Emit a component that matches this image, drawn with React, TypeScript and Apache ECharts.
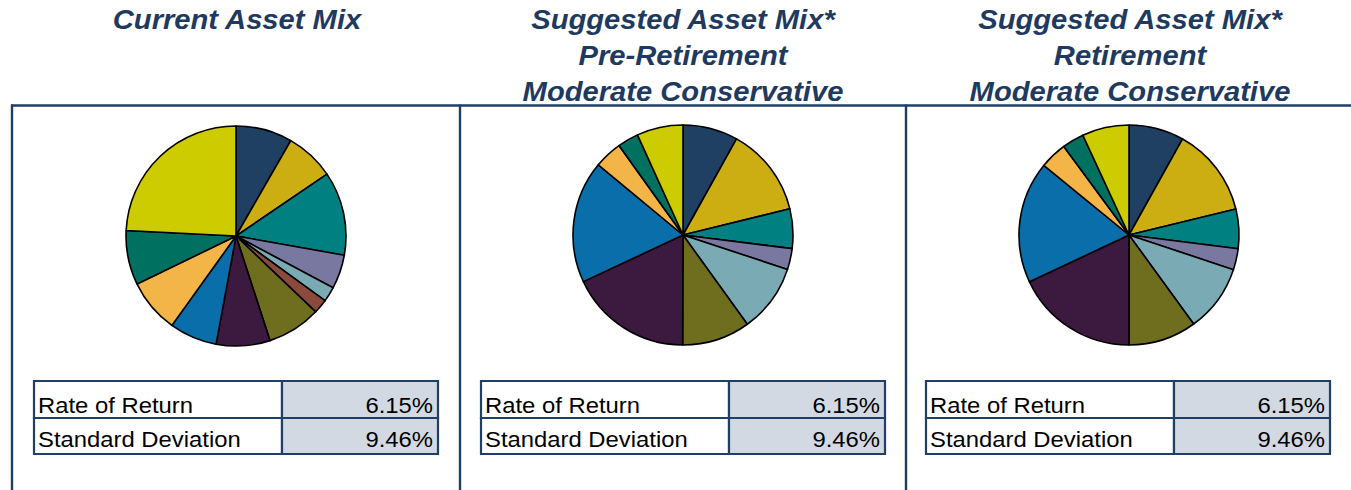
import React, { useEffect, useRef } from "react";
import * as echarts from "echarts";

const assetClasses = [
  "Cash",
  "Short-Term Bond",
  "Intermediate Bond",
  "High Yield Bond",
  "International Bond",
  "Real Estate",
  "Large Value",
  "Large Growth",
  "Large Blend",
  "Mid Cap",
  "Small Cap",
  "International Equity",
];
const sliceColors = [
  "#1F3F63",
  "#CDAE12",
  "#008080",
  "#7878A0",
  "#7AAAB4",
  "#8B4A3C",
  "#6E6E1E",
  "#3C193E",
  "#0A6EAA",
  "#F3B548",
  "#007060",
  "#CCCC00",
];
const currentMix = [8.3, 7.2, 12.3, 5.0, 2.2, 2.1, 7.9, 7.9, 7.0, 7.9, 8.0, 24.2];
const preRetirementMix = [8.1, 13.1, 5.8, 3.1, 10.0, 0, 10.0, 18.0, 18.0, 4.1, 3.1, 6.8];
const retirementMix = [8.1, 13.1, 5.8, 3.1, 9.9, 0, 10.0, 18.0, 17.9, 4.0, 3.2, 6.9];

const panelTitles = [
  ["Current Asset Mix"],
  ["Suggested Asset Mix*", "Pre-Retirement", "Moderate Conservative"],
  ["Suggested Asset Mix*", "Retirement", "Moderate Conservative"],
];
const statLabels = ["Rate of Return", "Standard Deviation"];
const rateOfReturn = ["6.15%", "6.15%", "6.15%"];
const standardDeviation = ["9.46%", "9.46%", "9.46%"];

const FONT = "'Liberation Sans', Arial, Helvetica, sans-serif";
const NAVY = "#1F3F66";

export default function App() {
  const ref = useRef<HTMLDivElement>(null);

  useEffect(() => {
    document.body.style.margin = "0";
    if (!ref.current) return;
    const chart = echarts.init(ref.current, undefined, { renderer: "svg" });

    const mixes = [currentMix, preRetirementMix, retirementMix];
    const pieCenters = [
      [236, 236],
      [683, 235],
      [1129, 235],
    ];
    const titleX = [237, 683, 1130];
    const tableLeft = [34, 481, 926];
    const tableW = 404;
    const leftColW = 248;
    const tableTop = 381;
    const rowH = [37, 36];
    const rowTextY = [405.5, 439.5];

    const series: any[] = mixes.map((mix, i) => ({
      type: "pie",
      center: pieCenters[i],
      radius: 110,
      startAngle: 90,
      clockwise: true,
      silent: true,
      label: { show: false },
      labelLine: { show: false },
      emphasis: { disabled: true },
      itemStyle: { borderColor: "#000", borderWidth: 1.6 },
      data: mix
        .map((v, k) => ({ name: assetClasses[k], value: v, itemStyle: { color: sliceColors[k] } }))
        .filter((d) => d.value > 0),
    }));

    const graphics: any[] = [];
    graphics.push({
      type: "line",
      shape: { x1: 11, y1: 105.5, x2: 1351, y2: 105.5 },
      style: { stroke: NAVY, lineWidth: 2.4 },
    });
    [12, 460, 906].forEach((x) =>
      graphics.push({
        type: "line",
        shape: { x1: x, y1: 104.5, x2: x, y2: 490 },
        style: { stroke: NAVY, lineWidth: 2.4 },
      })
    );

    const lineY = [20, 56, 91.5];
    panelTitles.forEach((lines, i) => {
      lines.forEach((t, j) => {
        graphics.push({
          type: "text",
          x: titleX[i],
          y: lineY[j],
          scaleX: 1.08,
          style: {
            text: t,
            fontFamily: FONT,
            fontSize: 27,
            fontWeight: "bold",
            fontStyle: "italic",
            fill: "#1F3A60",
            align: "center",
            verticalAlign: "middle",
          },
        });
      });
    });

    tableLeft.forEach((x0, i) => {
      const values = [rateOfReturn[i], standardDeviation[i]];
      let y = tableTop;
      statLabels.forEach((lab, r) => {
        const h = rowH[r];
        graphics.push({
          type: "rect",
          shape: { x: x0, y, width: leftColW, height: h },
          style: { fill: "#fff", stroke: NAVY, lineWidth: 2.2 },
        });
        graphics.push({
          type: "rect",
          shape: { x: x0 + leftColW, y, width: tableW - leftColW, height: h },
          style: { fill: "#D3D9E2", stroke: NAVY, lineWidth: 2.2 },
        });
        graphics.push({
          type: "text",
          x: x0 + 4,
          y: rowTextY[r],
          scaleX: 1.06,
          style: {
            text: lab,
            fontFamily: FONT,
            fontSize: 22.5,
            fill: "#000",
            align: "left",
            verticalAlign: "middle",
          },
        });
        graphics.push({
          type: "text",
          x: x0 + tableW - 5,
          y: rowTextY[r],
          scaleX: 1.06,
          style: {
            text: values[r],
            fontFamily: FONT,
            fontSize: 22.5,
            fill: "#000",
            align: "right",
            verticalAlign: "middle",
          },
        });
        y += h;
      });
    });

    chart.setOption({
      animation: false,
      backgroundColor: "#fff",
      series,
      graphic: { elements: graphics },
    });

    return () => chart.dispose();
  }, []);

  return <div ref={ref} style={{ width: 1351, height: 490 }} />;
}
